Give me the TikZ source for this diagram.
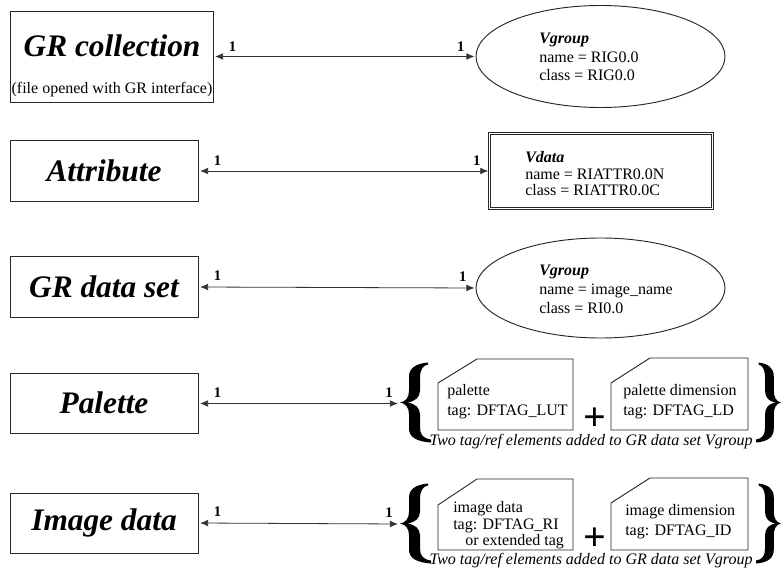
\documentclass[tikz,border=0pt]{standalone}
\usepackage{fontspec}
\setmainfont{Liberation Serif}
\usetikzlibrary{arrows.meta,shapes.geometric}
\begin{document}
\begin{tikzpicture}[x=0.75pt,y=-0.75pt,
  box/.style={draw=black!85, line width=0.7pt, inner sep=0pt},
  ell/.style={ellipse, draw=black!85, line width=0.7pt, inner sep=0pt, minimum width=186.75pt},
  title/.style={font=\fontsize{23.5}{28}\selectfont\bfseries\itshape, inner sep=0pt},
  body/.style={font=\fontsize{12}{14}\selectfont, inner sep=0pt},
  lbl/.style={font=\fontsize{11}{12}\selectfont\bfseries, inner sep=0pt},
  captxt/.style={font=\fontsize{12}{14}\selectfont\itshape, inner sep=0pt},
  plus/.style={font=\fontsize{30}{30}\selectfont\bfseries, inner sep=0pt, anchor=base},
  tagbox/.style={draw=black!85, line width=0.7pt},
  arr/.style={{Latex[length=6pt,width=5pt]}-{Latex[length=6pt,width=5pt]}, draw=black!80, line width=0.6pt, shorten <=1.2pt, shorten >=0.8pt},
  bigbrace/.pic={
    \fill[black] (28,-40)
      .. controls (17,-39) and (9,-35) .. (9,-26) -- (9,-12)
      .. controls (9,-5) and (6,-1) .. (0,0)
      .. controls (6,1) and (9,5) .. (9,12) -- (9,26)
      .. controls (9,35) and (17,39) .. (31,40) -- (31,37)
      .. controls (23,36) and (20,32) .. (20,25) -- (20,12)
      .. controls (20,5) and (15,1) .. (7,0)
      .. controls (15,-1) and (20,-5) .. (20,-12) -- (20,-25)
      .. controls (20,-33) and (23,-37) .. (28,-38) -- cycle;
  }
]
\path[use as bounding box] (0,0) rectangle (781,573);

% Row 1
\node[box, minimum width=152.25pt, minimum height=68.25pt] (grc) at (111.5,56.5) {};
\node[title] (grct) at (112,46) {GR collection};
\node[body] (grcs) at (112,90) {(file opened with GR interface)};
\node[ell, minimum height=76.5pt] (vg1) at (600.5,56.5) {};
\node[body, anchor=west, align=left, font=\fontsize{12}{13.9}\selectfont] (vg1t) at (539,57) {\textbf{\textit{Vgroup}}\\name = RIG0.0\\class = RIG0.0};
\draw[arr] (grc.east) -- (vg1.west)
  node[lbl, pos=0, xshift=14.25pt, yshift=7.5pt] {1}
  node[lbl, pos=1, xshift=-11pt, yshift=7.5pt] {1};

% Row 2
\node[box, minimum width=141pt, minimum height=45.75pt] (att) at (104,171) {};
\node[title] (attt) at (104,171) {Attribute};
\node[box, double, double distance=1.2pt, line width=0.5pt, minimum width=167pt, minimum height=56pt] (vd) at (601,171) {};
\node[body, anchor=west, align=left, font=\fontsize{12}{12.4}\selectfont] (vdt) at (525,174) {\textbf{\textit{Vdata}}\\name = RIATTR0.0N\\class = RIATTR0.0C};
\draw[arr] (att.east) -- (vd.west)
  node[lbl, pos=0, xshift=14.25pt, yshift=8pt] {1}
  node[lbl, pos=1, xshift=-9.5pt, yshift=8pt] {1};

% Row 3
\node[box, minimum width=141pt, minimum height=45.75pt] (gds) at (104,287) {};
\node[title] (gdst) at (104,287) {GR data set};
\node[ell, minimum height=75pt] (vg3) at (600.5,288) {};
\node[body, anchor=west, align=left, font=\fontsize{12}{14.25}\selectfont] (vg3t) at (539,289) {\textbf{\textit{Vgroup}}\\name = image\_name\\class = RI0.0};
\draw[arr] (gds.east) -- (vg3.west)
  node[lbl, pos=0, xshift=14.25pt, yshift=8.5pt] {1}
  node[lbl, pos=1, xshift=-9.5pt, yshift=8.5pt] {1};

% Row 4
\node[box, minimum width=141pt, minimum height=45pt] (pal) at (104,403.5) {};
\node[title] (palt) at (104,403) {Palette};
\coordinate (lb4) at (399,403.5);
\pic at (400,402.5) {bigbrace};
\pic[xscale=-0.8] at (781,402.5) {bigbrace};
\draw[tagbox] (438,383) -- (477,359) -- (573,359) -- (573,430) -- (438,430) -- cycle;
\draw[tagbox] (611,383) -- (650,358) -- (748,358) -- (748,430) -- (611,430) -- cycle;
\node[body, anchor=west, align=left, font=\fontsize{12}{15}\selectfont] (pa) at (447,402) {palette\\tag: DFTAG\_LUT};
\node[body, anchor=west, align=left, font=\fontsize{12}{15}\selectfont] (pb) at (623,402) {palette dimension\\tag: DFTAG\_LD};
\node[plus] (pl4) at (595,430) {+};
\node[captxt] (cap4) at (591,442) {Two tag/ref elements added to GR data set Vgroup};
\draw[arr] (pal.east) -- (lb4)
  node[lbl, pos=0, xshift=14.25pt, yshift=8.5pt] {1}
  node[lbl, pos=1, xshift=-7.5pt, yshift=8.5pt] {1};

% Row 5
\node[box, minimum width=141pt, minimum height=45pt] (img) at (104,523) {};
\node[title] (imgt) at (104,523) {Image data};
\coordinate (lb5) at (399,524);
\pic at (400,523.5) {bigbrace};
\pic[xscale=-0.8] at (781,523.5) {bigbrace};
\draw[tagbox] (438,505) -- (477,479) -- (573,479) -- (573,550) -- (438,550) -- cycle;
\draw[tagbox] (611,503) -- (650,478) -- (748,478) -- (748,550) -- (611,550) -- cycle;
\node[body, anchor=west, align=left, font=\fontsize{12}{12.4}\selectfont] (ia) at (453,525.5) {image data\\tag: DFTAG\_RI\\\hspace*{9pt}or extended tag};
\node[body, anchor=west, align=left, font=\fontsize{12}{15}\selectfont] (ib) at (625,522) {image dimension\\tag: DFTAG\_ID};
\node[plus] (pl5) at (595,550) {+};
\node[captxt] (cap5) at (591,561) {Two tag/ref elements added to GR data set Vgroup};
\draw[arr] (img.east) -- (lb5)
  node[lbl, pos=0, xshift=14.25pt, yshift=8.5pt] {1}
  node[lbl, pos=1, xshift=-7.5pt, yshift=8.5pt] {1};
\end{tikzpicture}
\end{document}
